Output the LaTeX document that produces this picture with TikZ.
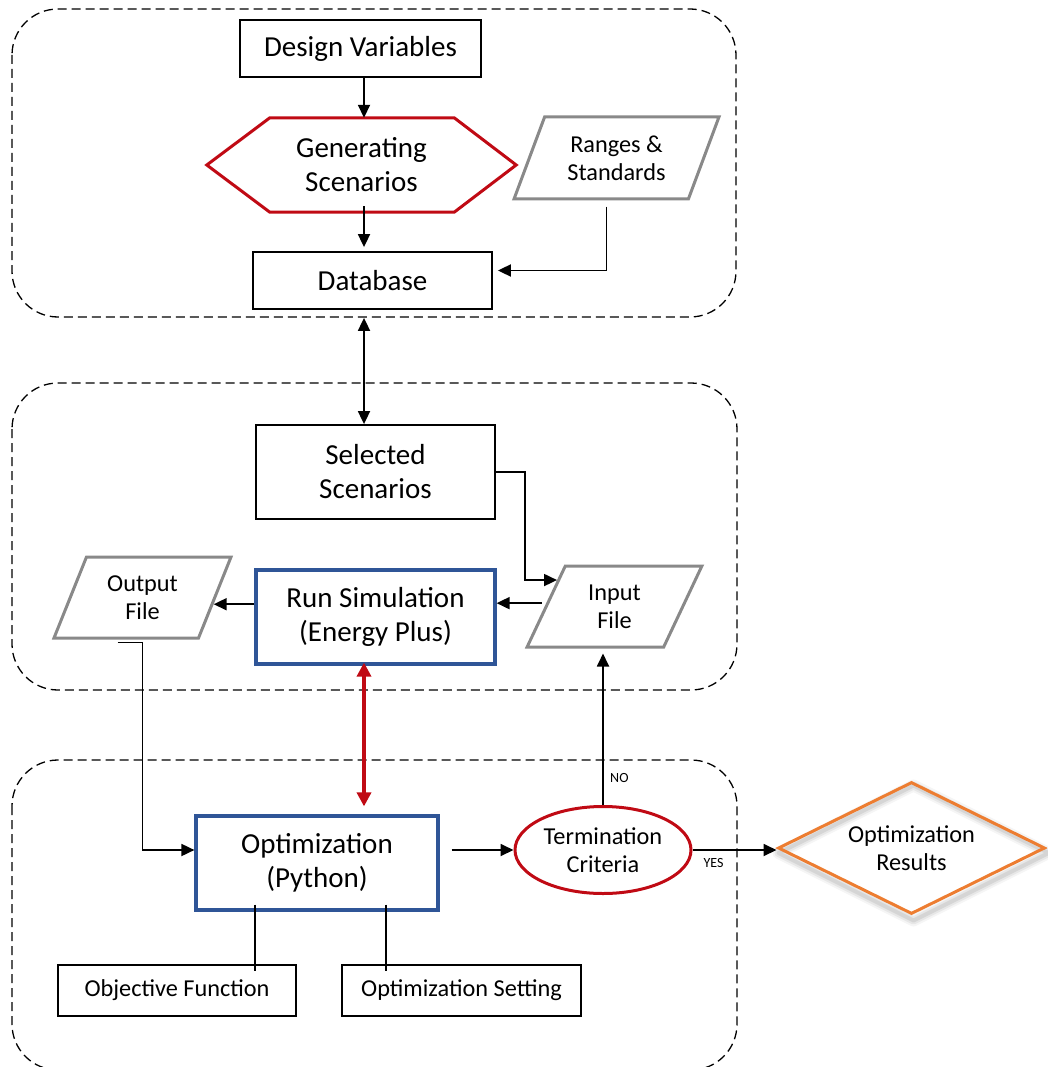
\documentclass[tikz,border=0pt]{standalone}
\usepackage{fontspec}
\setmainfont{Carlito}
\usetikzlibrary{arrows.meta,shapes.geometric,calc,backgrounds}
\definecolor{hexred}{RGB}{192,10,20}
\definecolor{boxblue}{RGB}{47,85,151}
\definecolor{iogray}{RGB}{137,137,137}
\definecolor{resorange}{RGB}{237,125,49}
\begin{document}
\begin{tikzpicture}[x=1pt,y=-1pt,
  big/.style={font=\fontsize{29}{34}\selectfont, align=center},
  small/.style={font=\fontsize{24.3}{28}\selectfont, align=center},
  tiny/.style={font=\fontsize{14}{16}\selectfont},
  blackbox/.style={draw, line width=1.8pt, rectangle, inner sep=0pt},
  bluebox/.style={draw=boxblue, line width=3.2pt, rectangle, inner sep=0pt},
  iobox/.style={trapezium, draw=iogray, line width=3pt, inner sep=0pt,
    trapezium stretches=true, trapezium left angle=65, trapezium right angle=115},
  group/.style={draw, dashed, dash pattern=on 9pt off 5pt, line width=1.3pt, rounded corners=46pt},
  arr/.style={-{Triangle[length=13pt,width=12pt]}, line width=1.8pt},
  dblarr/.style={{Triangle[length=13pt,width=12pt]}-{Triangle[length=13pt,width=12pt]}, line width=1.8pt},
  redarr/.style={{Triangle[length=14pt,width=14pt]}-{Triangle[length=14pt,width=14pt]}, line width=3.4pt, draw=hexred, fill=hexred},
  line/.style={line width=1.8pt}
]
\useasboundingbox (0,0) rectangle (1047,1067);
\clip (0,0) rectangle (1047,1067);

% dashed stage groups
\draw[group] (12,9) rectangle (736,317);
\draw[group] (12,383) rectangle (737,690);
\draw[group] (12,760) rectangle (737,1070);

% vertical spine of the flow
\coordinate (spine) at (364,0);

% scenario generation stage
\node[blackbox, big, minimum width=241pt, minimum height=57pt] (dv) at (360.5,48.5) {Design Variables};
\node[inner sep=0pt, minimum width=309pt, minimum height=94pt, big] (gen) at (361.5,165) {Generating\\Scenarios};
\draw[hexred, line width=3pt] (gen.west) -- ([xshift=63pt]gen.north west) -- ([xshift=-62pt]gen.north east)
  -- (gen.east) -- ([xshift=-62pt]gen.south east) -- ([xshift=63pt]gen.south west) -- cycle;
\node[blackbox, big, minimum width=239pt, minimum height=57pt] (db) at (372.5,280.5) {Database};
\node[iobox, small, minimum width=205pt, minimum height=82pt] (rs) at (616.5,158) {Ranges \&\\Standards};

\draw[arr] (spine |- dv.south) -- (spine |- gen.north);
\draw[arr] ([yshift=6pt]spine |- gen.south) -- ([yshift=4pt]spine |- db.north);
\draw[arr] ([xshift=-10pt,yshift=-6pt]rs.south) |- ([xshift=5pt,yshift=10pt]db.east);

% simulation stage
\node[blackbox, big, minimum width=239pt, minimum height=94pt] (sel) at (375.5,472) {Selected\\Scenarios};
\node[iobox, small, minimum width=175pt, minimum height=81pt] (in) at (614.5,606.5) {Input\\File};
\node[bluebox, big, minimum width=239pt, minimum height=94pt] (sim) at (375.5,617) {Run Simulation\\(Energy Plus)};
\node[iobox, small, minimum width=177pt, minimum height=81pt] (out) at (142.5,597.5) {Output\\File};

\coordinate (inTop) at ($(in.bottom left corner)!0.815!(in.top left corner)$);
\coordinate (inMid) at ($(in.bottom left corner)!0.54!(in.top left corner)$);
\coordinate (outMid) at ($(out.bottom right corner)!0.42!(out.top right corner)$);

\draw[dblarr, shorten <=8pt] (spine |- db.south) -- (spine |- sel.north);
\draw[arr] (sel.east) -- ++(29,0) |- (inTop);
\draw[arr] ([xshift=-4pt]inMid) -- (inMid -| sim.east);
\draw[arr] (outMid -| sim.west) -- (outMid);

% optimisation stage
\node[bluebox, big, minimum width=242pt, minimum height=94pt] (opt) at (317,863) {Optimization\\(Python)};
\node[ellipse, draw=hexred, line width=3pt, small, inner sep=0pt, minimum width=176pt, minimum height=87pt] (tc) at (603,850) {Termination\\Criteria};
\node[diamond, aspect=2.02, draw=resorange, line width=3pt, small, inner sep=0pt, minimum width=267pt, minimum height=132pt] (res) at (911.5,848) {Optimization\\Results};
\node[blackbox, small, minimum width=238pt, minimum height=51pt] (obj) at (177,990.5) {Objective Function};
\node[blackbox, small, minimum width=239pt, minimum height=51pt] (set) at (461.5,990.5) {Optimization Setting};

\begin{pgfonlayer}{background}
  \foreach \w/\o in {12/0.04,8/0.06,4/0.08}
    \draw[black, opacity=\o, line width=\w pt, line join=round, transform canvas={xshift=2pt,yshift=-5pt}]
      (res.west) -- (res.north) -- (res.east) -- (res.south) -- cycle;
\end{pgfonlayer}

\draw[redarr, shorten <=-3pt, shorten >=8pt] (spine |- sim.south) -- (spine |- opt.north);
\draw[line] ([xshift=-25pt,yshift=-3pt]out.south) -- ([yshift=-3pt]out.south);
\draw[arr] ([yshift=-3pt]out.south) |- (opt.west |- tc.west);
\draw[arr] ([xshift=12pt]opt.east |- tc.west) -- (tc.west);
\draw[arr, shorten >=5pt] (tc.north) -- (tc.north |- in.south) node[tiny, pos=0.17, right, xshift=3pt] (no) {NO};
\draw[arr] (tc.east) -- (tc.east -| res.west) node[tiny, pos=0.25, below, yshift=-4pt] (yes) {YES};

\coordinate (leg1) at (255,0);
\coordinate (leg2) at (386,0);
\draw[line] ([yshift=7pt]leg1 |- opt.south) -- ([yshift=-7pt]leg1 |- obj.north);
\draw[line] ([yshift=7pt]leg2 |- opt.south) -- ([yshift=-7pt]leg2 |- set.north);
\end{tikzpicture}
\end{document}
